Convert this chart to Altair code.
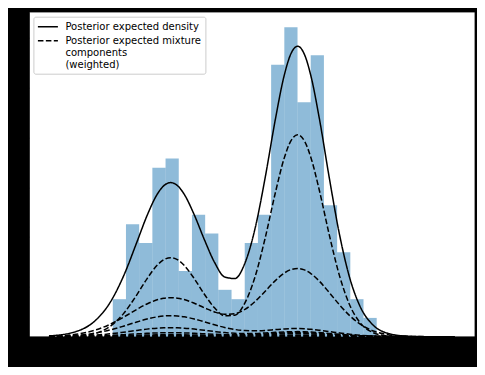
import altair as alt
import pandas as pd

# ---- histogram (standardized waiting time, density) ----
bin_edges = [-2.0558, -1.8605, -1.6652, -1.4700, -1.2747, -1.0794, -0.8841, -0.6888,
             -0.4936, -0.2983, -0.1030, 0.0923, 0.2876, 0.4828, 0.6781, 0.8734,
             1.0687, 1.2640, 1.4592, 1.6545, 1.8498]
bar_density = [0.0753, 0.2259, 0.1883, 0.3389, 0.3577, 0.1318, 0.2447, 0.2071, 0.0941, 0.0753,
               0.1883, 0.2447, 0.5460, 0.6213, 0.4707, 0.5648, 0.2636, 0.1694, 0.0753, 0.0377]

# ---- curves ----
x_grid = [-3.0, -2.6, -2.3, -2.1, -1.9, -1.7, -1.55, -1.4, -1.3, -1.2, -1.1, -1.0,
          -0.85, -0.7, -0.55, -0.4, -0.25, -0.1, 0.05, 0.2, 0.35, 0.48, 0.58, 0.68,
          0.78, 0.88, 1.0, 1.15, 1.3, 1.45, 1.6, 1.8, 2.0, 2.3, 2.6, 3.0]

total = [0.0015, 0.0103, 0.0342, 0.0677, 0.1206, 0.1895, 0.2426, 0.2855, 0.3031, 0.3093, 0.3034, 0.2862,
         0.2446, 0.1947, 0.1492, 0.1200, 0.1167, 0.1478, 0.2172, 0.3197, 0.4362, 0.5238, 0.5678, 0.5831,
         0.5667, 0.5213, 0.4388, 0.3174, 0.2046, 0.1183, 0.0619, 0.0229, 0.0074, 0.0011, 0.0001, 0.0]

comp1 = [0.0, 0.0011, 0.0074, 0.0203, 0.0458, 0.0841, 0.1162, 0.1433, 0.1546, 0.1586, 0.1546, 0.1433,
         0.1165, 0.0852, 0.0579, 0.0419, 0.0432, 0.0679, 0.1203, 0.1985, 0.2889, 0.3579, 0.3930, 0.4055,
         0.3930, 0.3578, 0.2944, 0.2033, 0.1220, 0.0636, 0.0288, 0.0080, 0.0017, 0.0001, 0.0, 0.0]
comp2 = [0.0008, 0.0048, 0.0139, 0.0246, 0.0389, 0.0548, 0.0657, 0.0740, 0.0772, 0.0784, 0.0774, 0.0745,
         0.0671, 0.0580, 0.0497, 0.0450, 0.0463, 0.0549, 0.0707, 0.0913, 0.1126, 0.1275, 0.1347, 0.1370,
         0.1341, 0.1263, 0.1116, 0.0882, 0.0638, 0.0423, 0.0256, 0.0114, 0.0044, 0.0008, 0.0001, 0.0]
comp3 = [0.0004, 0.0026, 0.0075, 0.0133, 0.0210, 0.0295, 0.0354, 0.0398, 0.0415, 0.0422, 0.0416, 0.0399,
         0.0355, 0.0299, 0.0239, 0.0185, 0.0145, 0.0123, 0.0119, 0.0127, 0.0143, 0.0156, 0.0162, 0.0163,
         0.0159, 0.0149, 0.0131, 0.0104, 0.0075, 0.0050, 0.0030, 0.0013, 0.0005, 0.0001, 0.0, 0.0]
comp4 = [0.0002, 0.0011, 0.0032, 0.0057, 0.0090, 0.0126, 0.0152, 0.0171, 0.0178, 0.0181, 0.0178, 0.0171,
         0.0153, 0.0129, 0.0104, 0.0082, 0.0068, 0.0062, 0.0065, 0.0075, 0.0087, 0.0096, 0.0100, 0.0102,
         0.0099, 0.0093, 0.0082, 0.0065, 0.0047, 0.0031, 0.0019, 0.0008, 0.0003, 0.0001, 0.0, 0.0]
comp5 = [0.0001, 0.0005, 0.0014, 0.0025, 0.0040, 0.0056, 0.0067, 0.0076, 0.0079, 0.0080, 0.0079, 0.0076,
         0.0068, 0.0058, 0.0048, 0.0040, 0.0037, 0.0038, 0.0045, 0.0056, 0.0067, 0.0076, 0.0079, 0.0081,
         0.0079, 0.0074, 0.0066, 0.0052, 0.0038, 0.0025, 0.0015, 0.0007, 0.0003, 0.0, 0.0, 0.0]
comp6 = [0.0, 0.0002, 0.0007, 0.0013, 0.0020, 0.0028, 0.0034, 0.0038, 0.0040, 0.0040, 0.0040, 0.0038,
         0.0034, 0.0030, 0.0025, 0.0022, 0.0022, 0.0025, 0.0032, 0.0041, 0.0050, 0.0056, 0.0059, 0.0060,
         0.0059, 0.0056, 0.0049, 0.0039, 0.0028, 0.0019, 0.0011, 0.0005, 0.0002, 0.0, 0.0, 0.0]
comp7 = [0.0, 0.0002, 0.0004, 0.0006, 0.0010, 0.0014, 0.0016, 0.0018, 0.0020, 0.0020, 0.0020, 0.0019,
         0.0017, 0.0015, 0.0012, 0.0011, 0.0011, 0.0013, 0.0016, 0.0020, 0.0025, 0.0028, 0.0030, 0.0030,
         0.0030, 0.0028, 0.0025, 0.0019, 0.0014, 0.0009, 0.0006, 0.0003, 0.0001, 0.0, 0.0, 0.0]
comp8 = [0.0, 0.0001, 0.0002, 0.0003, 0.0005, 0.0007, 0.0008, 0.0009, 0.0010, 0.0010, 0.0010, 0.0010,
         0.0009, 0.0008, 0.0006, 0.0006, 0.0006, 0.0007, 0.0008, 0.0010, 0.0012, 0.0014, 0.0015, 0.0015,
         0.0015, 0.0014, 0.0012, 0.0010, 0.0007, 0.0005, 0.0003, 0.0002, 0.0001, 0.0, 0.0, 0.0]
comp9 = [0.0, 0.0, 0.0001, 0.0002, 0.0003, 0.0004, 0.0004, 0.0005, 0.0005, 0.0005, 0.0005, 0.0005,
         0.0004, 0.0004, 0.0003, 0.0003, 0.0003, 0.0003, 0.0004, 0.0005, 0.0006, 0.0007, 0.0008, 0.0008,
         0.0008, 0.0007, 0.0006, 0.0005, 0.0004, 0.0002, 0.0002, 0.0001, 0.0, 0.0, 0.0, 0.0]
comp10 = [0.0, 0.0, 0.0, 0.0, 0.0, 0.0, 0.0, 0.0, 0.0, 0.0, 0.0, 0.0,
          0.0, 0.0, 0.0, 0.0, 0.0, 0.0, 0.0, 0.0, 0.0, 0.0, 0.0, 0.0,
          0.0, 0.0, 0.0, 0.0, 0.0, 0.0, 0.0, 0.0, 0.0, 0.0, 0.0, 0.0]

label_total = "Posterior expected density"
label_comp = "Posterior expected mixture|components|(weighted)"

rows = []
curves = [("total", label_total, total)]
for i, c in enumerate([comp1, comp2, comp3, comp4, comp5, comp6, comp7, comp8, comp9, comp10]):
    curves.append((f"comp{i + 1}", label_comp, c))
for cid, kind, vals in curves:
    for xv, yv in zip(x_grid, vals):
        rows.append({"x": xv, "y": yv, "curve": cid, "kind": kind})
lines_df = pd.DataFrame(rows)

bars_df = pd.DataFrame({"left": bin_edges[:-1], "right": bin_edges[1:], "density": bar_density})

xscale = alt.Scale(domain=[-3.3, 3.3], nice=False, zero=False)
yscale = alt.Scale(domain=[0, 0.6523], nice=False, zero=False)

xaxis = alt.Axis(values=[-3, -2, -1, 0, 1, 2, 3], grid=False, title=None,
                 domainColor="black", tickColor="black", labelColor="black",
                 labelFont="DejaVu Sans", labelFontSize=10, tickSize=3.5)
yaxis = alt.Axis(values=[0, 0.1, 0.2, 0.3, 0.4, 0.5, 0.6], grid=False, title=None,
                 domainColor="black", tickColor="black", labelColor="black",
                 labelFont="DejaVu Sans", labelFontSize=10, tickSize=3.5)

bars = alt.Chart(bars_df).mark_rect(color="#1f77b4", opacity=0.5).encode(
    x=alt.X("left:Q", scale=xscale, axis=xaxis),
    x2="right:Q",
    y=alt.Y("density:Q", scale=yscale, axis=yaxis),
    y2=alt.datum(0),
)

legend = alt.Legend(
    title=None, orient="none", legendX=4.7, legendY=5,
    fillColor="white", strokeColor="#cccccc", cornerRadius=2, padding=4,
    symbolType="M-2,0H2", symbolSize=100, symbolStrokeWidth=1.5, symbolOffset=4.5,
    symbolStrokeColor="black", labelFont="DejaVu Sans", labelFontSize=10,
    labelColor="black", labelOffset=11.5, labelLimit=300, rowPadding=3,
    labelExpr="split(datum.label, '|')",
)

lines = alt.Chart(lines_df).mark_line(color="black", strokeWidth=1.5, clip=True,
                                      interpolate="monotone").encode(
    x=alt.X("x:Q", scale=xscale),
    y=alt.Y("y:Q", scale=yscale),
    detail="curve:N",
    strokeDash=alt.StrokeDash(
        "kind:N",
        scale=alt.Scale(domain=[label_total, label_comp], range=[[1, 0], [5.55, 2.4]]),
        legend=legend,
    ),
)

chart = alt.layer(bars, lines).properties(
    width=446, height=325,
    background="black",
    padding={"left": 20.7, "top": 3.7, "right": 2.3, "bottom": 30.3},
    autosize=alt.AutoSizeParams(type="none"),
).configure_view(stroke="black", strokeWidth=0.8, fill="white")

chart.save("out.html", embed_options={"renderer": "svg", "actions": False})
